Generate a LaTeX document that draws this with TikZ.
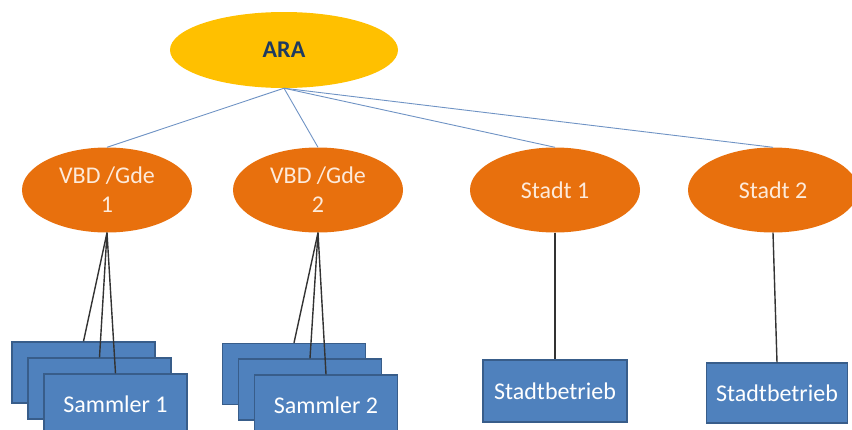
\documentclass[tikz,border=0pt]{standalone}
\usepackage{fontspec}
\setmainfont{Carlito}
\usepackage{tikz}
\usetikzlibrary{shapes.geometric}

\definecolor{aragold}{HTML}{FFC000}
\definecolor{aranavy}{HTML}{1F3A60}
\definecolor{orgorange}{HTML}{E8700D}
\definecolor{orgtext}{HTML}{FDEADA}
\definecolor{boxblue}{HTML}{4F81BD}
\definecolor{boxedge}{HTML}{385D8A}
\definecolor{linkblue}{HTML}{6F93C4}

\begin{document}
\begin{tikzpicture}[
  x=1pt, y=-1pt,
  top/.style={ellipse, fill=aragold, minimum width=228pt, minimum height=76pt, inner sep=0pt,
    text=aranavy, font=\fontsize{24}{28}\selectfont\bfseries},
  org/.style={ellipse, fill=orgorange, minimum width=170pt, minimum height=85pt, inner sep=0pt,
    align=center, text=orgtext, font=\fontsize{24}{29}\selectfont},
  unit/.style={draw=boxedge, line width=1.3pt, fill=boxblue, minimum width=143pt, minimum height=61pt,
    inner sep=0pt, text=white, font=\fontsize{24}{28}\selectfont},
  link/.style={draw=linkblue, line width=0.9pt},
  feed/.style={draw=black!80, line width=1.4pt}
]
\useasboundingbox (0,0) rectangle (852,429);

\node[top] (ara) at (284,50) {ARA};

\node[org] (vbd1)  at (107,190) {VBD /Gde\\1};
\node[org] (vbd2)  at (318,190) {VBD /Gde\\2};
\node[org] (stadt1) at (555,190) {Stadt 1};
\node[org] (stadt2) at (773,190) {Stadt 2};

% Sammler stacks
\node[unit] (sam1a) at (83.5,372.5) {};
\node[unit] (sam1b) at (99.5,388.5) {};
\node[unit] (sam1c) at (115.5,404.5) {Sammler 1};
\node[unit] (sam2a) at (294,374) {};
\node[unit] (sam2b) at (310,389.5) {};
\node[unit] (sam2c) at (326,405.5) {Sammler 2};

\node[unit, minimum width=144pt, minimum height=62pt] (betr1) at (555,391) {Stadtbetrieb};
\node[unit, minimum width=141pt, minimum height=60pt] (betr2) at (777,393) {Stadtbetrieb};

\draw[link] (ara.south) -- (vbd1.north);
\draw[link] (ara.south) -- (vbd2.north);
\draw[link] (ara.south) -- (stadt1.north);
\draw[link] (ara.south) -- (stadt2.north);

\draw[feed] (vbd1.south) -- (sam1a.north);
\draw[feed] (vbd1.south) -- (sam1b.north);
\draw[feed] (vbd1.south) -- (sam1c.north);
\draw[feed] (vbd2.south) -- (sam2a.north);
\draw[feed] (vbd2.south) -- (sam2b.north);
\draw[feed] (vbd2.south) -- (sam2c.north);
\draw[feed] (stadt1.south) -- (betr1.north);
\draw[feed] (stadt2.south) -- (betr2.north);
\end{tikzpicture}
\end{document}
